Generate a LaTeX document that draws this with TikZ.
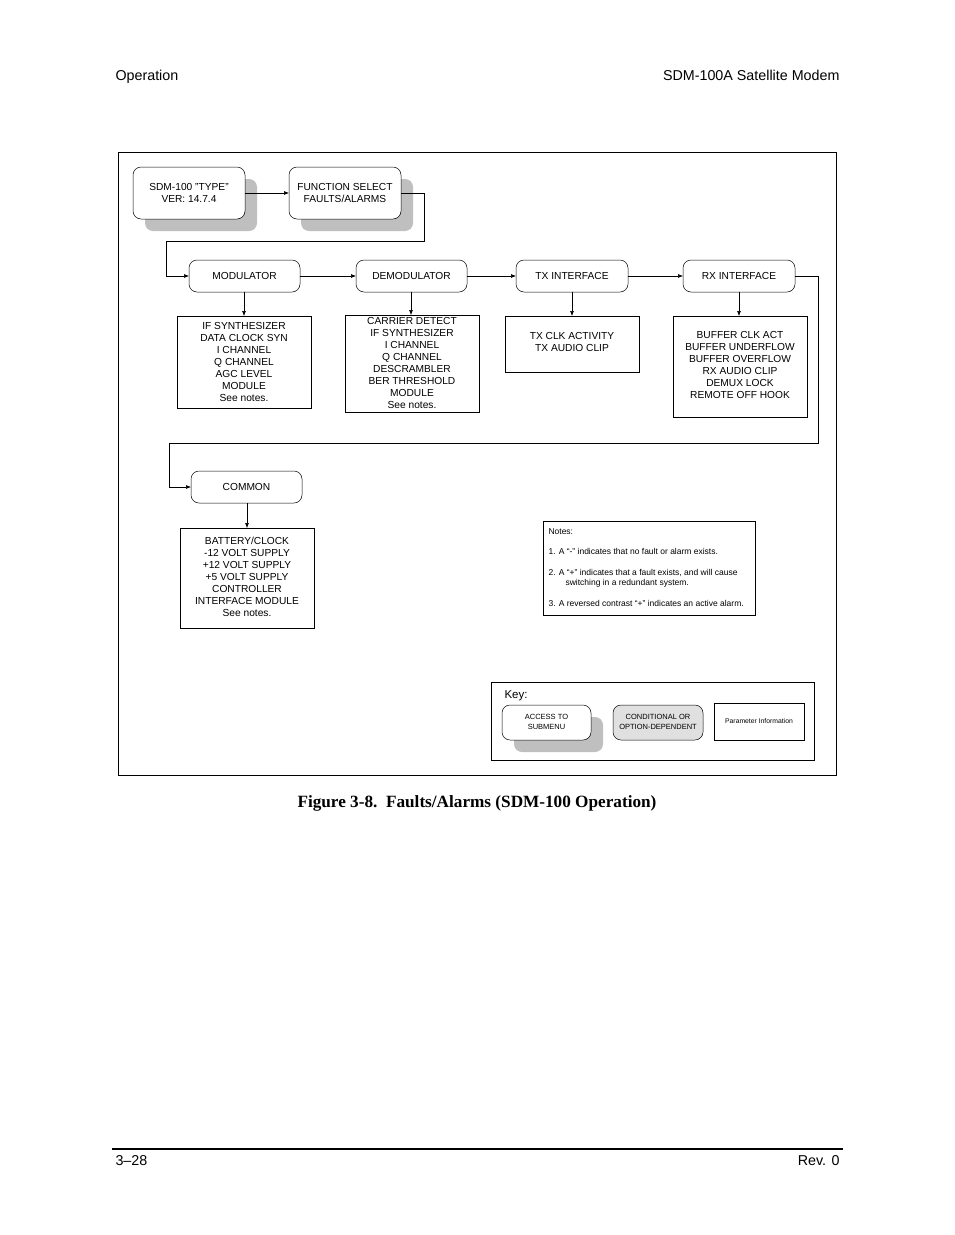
\documentclass[tikz,border=0pt]{standalone}
\usepackage{fontspec}
\setmainfont{Liberation Sans}
\newfontfamily\capfont{Liberation Serif}
\usetikzlibrary{arrows.meta}
\tikzset{x=1pt,y=-1pt,
 rbox/.style={draw,rounded corners=8pt,fill=white,line width=0.5pt},
 shad/.style={fill=black!25,rounded corners=8pt},
 pbox/.style={draw,line width=0.6pt},
 txt/.style={font=\fontsize{10.2}{11.9}\selectfont,align=center},
 conn/.style={line width=0.6pt},
 arr/.style={conn,-{Latex[length=5pt,width=4pt]}}}
\begin{document}
\begin{tikzpicture}
\useasboundingbox (0,0) rectangle (954,1235);
\node[anchor=base west,font=\fontsize{14.3}{16}\selectfont] (hl) at (112,80) {Operation};
\node[anchor=base east,font=\fontsize{14.3}{16}\selectfont] (hr) at (843,80) {SDM-100A Satellite Modem};
\draw[line width=1.2pt] (112,1149) -- (843,1149);
\node[anchor=base west,font=\fontsize{14.3}{16}\selectfont] (fl) at (112,1165) {3--28};
\node[anchor=base east,font=\fontsize{14.3}{16}\selectfont] (fr) at (843,1165) {Rev. 0};
\draw[line width=0.6pt] (118,152) rectangle (836,775);
\node[font=\capfont\bfseries\fontsize{17.2}{20}\selectfont] (cap) at (477,803) {Figure 3-8.\ \ Faults/Alarms (SDM-100 Operation)};
% top boxes
\fill[shad] (145,179) rectangle (257,231);
\fill[shad] (301,179) rectangle (413,231);
\draw[rbox] (133,167) rectangle (245,219);
\draw[rbox] (289,167) rectangle (401,219);
\node[txt] (sdm) at (189,193) {SDM-100 "TYPE"\\VER: 14.7.4};
\node[txt] (fs) at (345,193) {FUNCTION SELECT\\FAULTS/ALARMS};
\coordinate (sdmR) at (245,193); \coordinate (fsL) at (289,193); \coordinate (fsR) at (401,193);
\draw[arr] (sdmR) -- (fsL);
% row
\foreach \n/\a/\b/\t in {mod/189/300/MODULATOR,dem/356/467/DEMODULATOR,tx/516/628/TX INTERFACE,rx/683/795/RX INTERFACE}{
  \draw[rbox] (\a,260) rectangle (\b,292);
  \node[txt] (\n) at ({(\a+\b)/2},276) {\t};
}
\coordinate (modL) at (189,276);
\draw[arr] (fsR) -- (424,193) -- (424,241) -- (166,241) -- (166,276) -- (modL);
\draw[arr] (300,276) -- (356,276);
\draw[arr] (467,276) -- (516,276);
\draw[arr] (628,276) -- (683,276);
% common
\draw[rbox] (191,471) rectangle (302,503);
\node[txt] (com) at (246.5,487) {COMMON};
\draw[arr] (795,276) -- (818,276) -- (818,443) -- (169,443) -- (169,487) -- (191,487);
% param boxes
\draw[pbox] (177,316) rectangle (311,408);
\node[txt] (pm) at (244,362) {IF SYNTHESIZER\\DATA CLOCK SYN\\I CHANNEL\\Q CHANNEL\\AGC LEVEL\\MODULE\\See notes.};
\draw[pbox] (345,315) rectangle (479,412);
\node[txt] (pd) at (412,363) {CARRIER DETECT\\IF SYNTHESIZER\\I CHANNEL\\Q CHANNEL\\DESCRAMBLER\\BER THRESHOLD\\MODULE\\See notes.};
\draw[pbox] (505,316) rectangle (639,372);
\node[txt] (pt) at (572,342) {TX CLK ACTIVITY\\TX AUDIO CLIP};
\draw[pbox] (673,316) rectangle (807,417);
\node[txt] (pr) at (740,365) {BUFFER CLK ACT\\BUFFER UNDERFLOW\\BUFFER OVERFLOW\\RX AUDIO CLIP\\DEMUX LOCK\\REMOTE OFF HOOK};
\draw[pbox] (180,528) rectangle (314,628);
\node[txt] (pc) at (247,577) {BATTERY/CLOCK\\-12 VOLT SUPPLY\\+12 VOLT SUPPLY\\+5 VOLT SUPPLY\\CONTROLLER\\INTERFACE MODULE\\See notes.};
\draw[arr] (244,292) -- (244,316);
\draw[arr] (411,292) -- (411,315);
\draw[arr] (572,292) -- (572,316);
\draw[arr] (739,292) -- (739,316);
\draw[arr] (247,503) -- (247,528);
% notes
\draw[pbox] (543,521) rectangle (755,615);
\node[anchor=north west,font=\fontsize{8.5}{10.3}\selectfont,align=left] (notes) at (545,525) {Notes:\\[10.3pt]1. A ``-'' indicates that no fault or alarm exists.\\[10.3pt]2. A ``+'' indicates that a fault exists, and will cause\\\hspace{17pt}switching in a redundant system.\\[10.3pt]3. A reversed contrast ``+'' indicates an active alarm.};
% key
\draw[pbox] (491,682) rectangle (814,760);
\node[anchor=base west,font=\fontsize{11.5}{13}\selectfont] (key) at (501,698) {Key:};
\fill[shad] (514,717) rectangle (603,752);
\draw[rbox] (502,705) rectangle (591,740);
\node[font=\fontsize{7.5}{9.5}\selectfont,align=center] (k1) at (546.5,722) {ACCESS TO\\SUBMENU};
\draw[rbox,fill=black!12] (613,705) rectangle (703,740);
\node[font=\fontsize{7.5}{9.5}\selectfont,align=center] (k2) at (658,722) {CONDITIONAL OR\\OPTION-DEPENDENT};
\draw[pbox] (714,703) rectangle (804,740);
\node[font=\fontsize{6.8}{8}\selectfont] (k3) at (759,721.5) {Parameter Information};
\end{tikzpicture}
\end{document}
